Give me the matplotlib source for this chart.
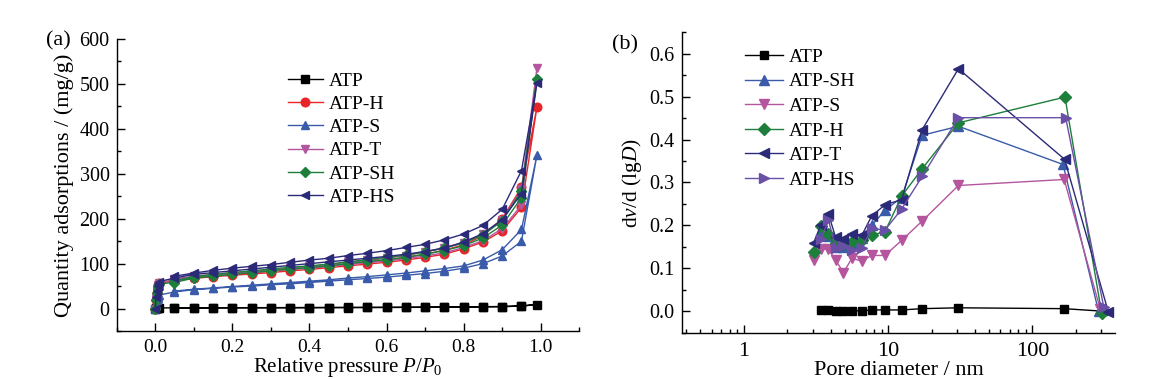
import numpy as np
import matplotlib
matplotlib.use("Agg")
import matplotlib.pyplot as plt
from matplotlib.ticker import MultipleLocator, FuncFormatter, LogLocator

plt.rcParams['font.family'] = ['Liberation Serif', 'DejaVu Serif']
plt.rcParams['mathtext.fontset'] = 'custom'
plt.rcParams['mathtext.rm'] = 'Liberation Serif'
plt.rcParams['mathtext.it'] = 'Liberation Serif:italic'

# ---- (a) N2 isotherms ----
p_low = [0.0, 0.002, 0.004, 0.006, 0.008, 0.01]
p_main = [0.05, 0.10, 0.15, 0.20, 0.25, 0.30, 0.35, 0.40, 0.45, 0.50,
          0.55, 0.60, 0.65, 0.70, 0.75, 0.80, 0.85, 0.90, 0.95, 0.99]
p_des = [0.95, 0.90, 0.85, 0.80, 0.75, 0.70, 0.65, 0.60, 0.55, 0.50,
         0.45, 0.40, 0.35, 0.30, 0.25, 0.20, 0.15, 0.10, 0.05]

iso_names = ['ATP', 'ATP-H', 'ATP-S', 'ATP-T', 'ATP-SH', 'ATP-HS']

atp_low = [0, 0.5, 0.8, 1.0, 1.2, 1.5]
atp_ads = [1.5, 1.6, 1.7, 1.8, 1.9, 2.0, 2.0, 2.1, 2.2, 2.3,
           2.4, 2.5, 2.6, 2.8, 3.0, 3.5, 4.0, 4.3, 5.5, 9.0]
atp_des = [5.8, 4.5, 4.2, 3.8, 3.2, 3.0, 2.8, 2.6, 2.5, 2.4,
           2.3, 2.2, 2.1, 2.0, 2.0, 1.9, 1.8, 1.7, 1.6]

h_low = [0, 20, 35, 45, 52, 56]
h_ads = [62, 67, 71, 74, 77, 80, 84, 87, 91, 95,
         99, 103, 108, 114, 121, 133, 148, 173, 225, 448]
h_des = [270, 200, 162, 142, 130, 121, 114, 108, 103, 99,
         95, 91, 88, 84, 80, 77, 73, 69, 63]

s_low = [0, 10, 18, 23, 27, 30]
s_ads = [37, 42, 45, 48, 50, 53, 55, 58, 61, 64,
         67, 70, 74, 78, 83, 90, 100, 117, 150, 341]
s_des = [176, 131, 108, 95, 89, 84, 79, 75, 71, 68,
         64, 61, 58, 55, 52, 49, 46, 43, 39]

t_low = [0, 22, 38, 47, 53, 58]
t_ads = [64, 70, 74, 77, 80, 84, 87, 90, 94, 98,
         102, 106, 111, 117, 124, 136, 151, 178, 230, 535]
t_des = [266, 197, 165, 147, 135, 126, 118, 112, 107, 103,
         98, 94, 90, 87, 83, 80, 76, 72, 66]

sh_low = [0, 20, 35, 44, 50, 55]
sh_ads = [58, 68, 72, 76, 80, 84, 88, 91, 95, 100,
          105, 109, 114, 121, 129, 140, 157, 186, 247, 511]
sh_des = [262, 195, 164, 146, 135, 126, 119, 114, 109, 104,
          99, 95, 92, 88, 84, 80, 76, 71, 62]

hs_low = [0, 25, 40, 50, 55, 60]
hs_ads = [68, 76, 80, 84, 88, 92, 96, 100, 104, 108,
          112, 116, 121, 127, 135, 148, 167, 198, 256, 502]
hs_des = [307, 221, 185, 166, 153, 143, 136, 129, 123, 118,
          112, 108, 103, 98, 94, 90, 85, 79, 72]

# ---- (b) pore size distribution ----
psd_names = ['ATP', 'ATP-SH', 'ATP-S', 'ATP-H', 'ATP-T', 'ATP-HS']

d_atp = [3.41, 3.86, 4.33, 4.9, 5.6, 6.57, 7.7, 9.5, 12.4, 17.2, 30.7, 166, 310]
v_atp = [0.002, 0.002, 0.001, 0.001, 0.001, 0.001, 0.003, 0.003, 0.003, 0.006, 0.008, 0.006, 0.0]

d_sh = [3.41, 3.86, 4.33, 4.9, 5.6, 6.57, 7.7, 9.5, 12.4, 17.2, 30.7, 163, 287]
v_sh = [0.185, 0.175, 0.150, 0.150, 0.160, 0.170, 0.200, 0.235, 0.265, 0.410, 0.431, 0.342, 0.0]

d_s = [3.04, 3.41, 3.86, 4.33, 4.9, 5.6, 6.57, 7.7, 9.5, 12.4, 17.2, 30.7, 166, 295]
v_s = [0.119, 0.146, 0.144, 0.119, 0.090, 0.123, 0.117, 0.130, 0.130, 0.165, 0.210, 0.293, 0.307, 0.005]

d_h = [3.04, 3.41, 3.86, 4.33, 4.9, 5.6, 6.57, 7.7, 9.5, 12.4, 17.2, 30.7, 168, 302]
v_h = [0.138, 0.198, 0.181, 0.158, 0.156, 0.161, 0.165, 0.178, 0.185, 0.268, 0.332, 0.439, 0.499, -0.005]

d_t = [3.04, 3.41, 3.86, 4.33, 4.9, 5.6, 6.57, 7.7, 9.5, 12.4, 17.2, 30.7, 167, 336]
v_t = [0.159, 0.200, 0.226, 0.172, 0.168, 0.181, 0.177, 0.222, 0.248, 0.260, 0.423, 0.565, 0.354, -0.002]

d_hs = [3.41, 3.86, 4.33, 4.9, 5.6, 6.57, 7.7, 9.5, 12.4, 17.2, 30.7, 170, 312]
v_hs = [0.168, 0.212, 0.148, 0.151, 0.142, 0.148, 0.193, 0.189, 0.238, 0.314, 0.451, 0.451, 0.010]

BLACK = '#000000'
RED = '#E8262A'
BLUE = '#3A5BAA'
PINK = '#B4559E'
GREEN = '#1E7E3C'
NAVY = '#2B2A78'
PURPLE = '#6A4FA6'

fig = plt.figure(figsize=(11.54, 3.79), dpi=100)
ax1 = fig.add_axes([0.1011, 0.1266, 0.4009, 0.7704])
ax2 = fig.add_axes([0.5913, 0.1222, 0.3750, 0.7926])

iso = [
    (atp_low, atp_ads, atp_des, BLACK, 's'),
    (h_low, h_ads, h_des, RED, 'o'),
    (s_low, s_ads, s_des, BLUE, '^'),
    (t_low, t_ads, t_des, PINK, 'v'),
    (sh_low, sh_ads, sh_des, GREEN, 'D'),
    (hs_low, hs_ads, hs_des, NAVY, '<'),
]
for name, (lo, ads, des, c, m) in zip(iso_names, iso):
    x = p_low + p_main + p_des
    y = lo + ads + des
    ms = 4.8 if m == 'D' else 6.2
    if m == 's':
        ms = 5.2
    ax1.plot(x, y, color=c, marker=m, ms=ms, lw=1.0, label=name)

ax1.set_xlim(-0.1, 1.1)
ax1.set_ylim(-50, 600)
ax1.xaxis.set_major_locator(MultipleLocator(0.2))
ax1.xaxis.set_minor_locator(MultipleLocator(0.1))
ax1.yaxis.set_major_locator(MultipleLocator(100))
ax1.yaxis.set_minor_locator(MultipleLocator(50))
ax1.xaxis.set_major_formatter(FuncFormatter(lambda v, p: '%.1f' % v))
ax1.set_xlabel('Relative pressure $\\mathit{P}/\\mathit{P}_0$', fontsize=15, labelpad=0)
ax1.set_ylabel('Quantity adsorptions / (mg/g)', fontsize=16, labelpad=4)
ax1.legend(loc='upper left', bbox_to_anchor=(0.370, 0.887), frameon=False,
           fontsize=14, handlelength=1.8, handletextpad=0.3, labelspacing=0.29,
           borderpad=0, borderaxespad=0, numpoints=1)

psd = [
    (d_atp, v_atp, BLACK, 's'),
    (d_sh, v_sh, BLUE, '^'),
    (d_s, v_s, PINK, 'v'),
    (d_h, v_h, GREEN, 'D'),
    (d_t, v_t, NAVY, '<'),
    (d_hs, v_hs, PURPLE, '>'),
]
for name, (d, v, c, m) in zip(psd_names, psd):
    ms = 6 if m == 'D' else 7.5
    if m == 's':
        ms = 6
    ax2.plot(d, v, color=c, marker=m, ms=ms, lw=1.0, label=name)

ax2.set_xscale('log')
ax2.set_xlim(0.375, 374)
ax2.set_ylim(-0.05, 0.65)
ax2.yaxis.set_major_locator(MultipleLocator(0.1))
ax2.yaxis.set_minor_locator(MultipleLocator(0.05))
ax2.yaxis.set_major_formatter(FuncFormatter(lambda v, p: '%.1f' % v))
ax2.xaxis.set_major_locator(LogLocator(base=10, numticks=10))
ax2.xaxis.set_minor_locator(LogLocator(base=10, subs=np.arange(2, 10), numticks=20))
ax2.xaxis.set_major_formatter(FuncFormatter(lambda v, p: '%g' % v))
ax2.set_xlabel('Pore diameter / nm', fontsize=16, labelpad=0)
ax2.set_ylabel('d$\\mathit{v}$/d (lg$\\mathit{D}$)', fontsize=15.5, labelpad=4)
ax2.legend(loc='upper left', bbox_to_anchor=(0.145, 0.947), frameon=False,
           fontsize=14, handlelength=1.95, handletextpad=0.3, labelspacing=0.36,
           borderpad=0, borderaxespad=0, numpoints=1)

for ax in (ax1, ax2):
    for side in ('top', 'right'):
        ax.spines[side].set_visible(False)
    for side in ('left', 'bottom'):
        ax.spines[side].set_linewidth(1.0)
    ax.tick_params(which='both', direction='in', width=1.0)
    ax.tick_params(which='major', length=5.5)
    ax.tick_params(which='minor', length=3)

ax1.tick_params(axis='y', labelsize=14.5, pad=5)
ax1.tick_params(axis='x', labelsize=14, pad=6)
ax2.tick_params(axis='y', labelsize=14.5, pad=5.5)
ax2.tick_params(axis='x', labelsize=16, pad=7)

fig.text(46 / 1154, 1 - 41 / 379, '(a)', fontsize=16, va='center', ha='left')
fig.text(612 / 1154, 1 - 45 / 379, '(b)', fontsize=16, va='center', ha='left')

fig.savefig('out.png', dpi=100)
